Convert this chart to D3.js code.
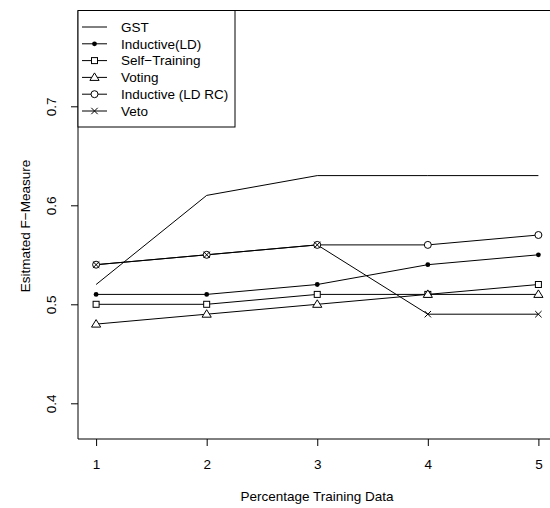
<!DOCTYPE html>
<html>
<head>
<meta charset="utf-8">
<script src="https://cdn.jsdelivr.net/npm/d3@7"></script>
<style>
  body { margin: 0; background: #fff; overflow: hidden; }
  svg { display: block; }
  svg text { font-family: "Liberation Sans", Arial, sans-serif; fill: #000; }
</style>
</head>
<body>
<div id="chart"></div>
<script>
// ========================================
// Data
// ========================================
const xValues = [1, 2, 3, 4, 5];
const seriesNames = ['GST', 'Inductive(LD)', 'Self\u2212Training', 'Voting', 'Inductive (LD RC)', 'Veto'];
const symbols = ['none', 'dot', 'square', 'triangle', 'circle', 'cross'];
const gst = [0.52, 0.61, 0.63, 0.63, 0.63];
const inductiveLD = [0.51, 0.51, 0.52, 0.54, 0.55];
const selfTraining = [0.50, 0.50, 0.51, 0.51, 0.52];
const voting = [0.48, 0.49, 0.50, 0.51, 0.51];
const inductiveLDRC = [0.54, 0.55, 0.56, 0.56, 0.57];
const veto = [0.54, 0.55, 0.56, 0.49, 0.49];
const yTicks = [0.4, 0.5, 0.6, 0.7];
const xLabel = 'Percentage Training Data';
const yLabel = 'Esitmated F\u2212Measure';

const seriesValues = [gst, inductiveLD, selfTraining, voting, inductiveLDRC, veto];

// ========================================
// Dimensions
// ========================================
const width = 550, height = 508;
const box = { left: 78, top: 10.5, right: 556, bottom: 439 };  // right side falls just off the page
const fontSize = '13.5px';

const svg = d3.select('#chart').append('svg')
  .attr('width', width)
  .attr('height', height);

// scales fitted to where R put the ticks
const xScale = d3.scaleLinear().domain([1, 5]).range([96.1, 538.4]);
const yScale = d3.scaleLinear().domain([0.4, 0.7]).range([403.3, 106.3]);

// ========================================
// Plot box (top, left, bottom; the right edge is outside the picture)
// ========================================
svg.append('path')
  .attr('d', `M${box.right},${box.top}H${box.left}V${box.bottom}H${box.right}`)
  .attr('fill', 'none')
  .attr('stroke', '#000')
  .attr('stroke-width', 1);

// ========================================
// Axes
// ========================================
const xAxis = svg.append('g')
  .attr('transform', 'translate(0,' + box.bottom + ')')
  .call(d3.axisBottom(xScale).tickValues(xValues).tickFormat(d3.format('d')).tickSize(7).tickPadding(13.5));
xAxis.select('.domain').remove();
xAxis.selectAll('text').style('font-size', fontSize);

const yAxis = svg.append('g')
  .attr('transform', 'translate(' + box.left + ',0)')
  .call(d3.axisLeft(yScale).tickValues(yTicks).tickFormat(d3.format('.1f')).tickSize(7));
yAxis.select('.domain').remove();
yAxis.selectAll('text')
  .style('font-size', fontSize)
  .attr('text-anchor', 'middle')
  .attr('x', 0)
  .attr('y', 0)
  .attr('dy', 0)
  .attr('transform', 'translate(-26,0) rotate(-90)')
  .attr('dominant-baseline', 'middle');

svg.append('text')
  .attr('x', (box.left + box.right) / 2)
  .attr('y', 501)
  .attr('text-anchor', 'middle')
  .style('font-size', fontSize)
  .text(xLabel);

svg.append('text')
  .attr('transform', 'translate(30,' + 226 + ') rotate(-90)')
  .attr('text-anchor', 'middle')
  .style('font-size', fontSize)
  .text(yLabel);

// ========================================
// Symbols
// ========================================
function drawSymbol(g, type, x, y) {
  switch (type) {
    case 'dot':
      g.append('circle').attr('cx', x).attr('cy', y).attr('r', 2.4).attr('fill', '#000');
      break;
    case 'square':
      g.append('rect').attr('x', x - 3).attr('y', y - 3).attr('width', 6).attr('height', 6)
        .attr('fill', '#fff').attr('stroke', '#000');
      break;
    case 'triangle':
      g.append('path').attr('d', `M${x},${y - 4.5}L${x + 4.6},${y + 3}L${x - 4.6},${y + 3}Z`)
        .attr('fill', '#fff').attr('stroke', '#000');
      break;
    case 'circle':
      g.append('circle').attr('cx', x).attr('cy', y).attr('r', 3.5)
        .attr('fill', '#fff').attr('stroke', '#000');
      break;
    case 'cross':
      g.append('path').attr('d', `M${x - 3.2},${y - 3.2}L${x + 3.2},${y + 3.2}M${x - 3.2},${y + 3.2}L${x + 3.2},${y - 3.2}`)
        .attr('stroke', '#000');
      break;
  }
}

// ========================================
// Lines and points
// ========================================
const line = d3.line()
  .x((d, i) => xScale(xValues[i]))
  .y(d => yScale(d));

const plot = svg.append('g');
seriesValues.forEach((vals) => {
  plot.append('path')
    .attr('d', line(vals))
    .attr('fill', 'none')
    .attr('stroke', '#000')
    .attr('stroke-width', 1);
});
// symbols on top, like R's type "o"
seriesValues.forEach((vals, s) => {
  vals.forEach((v, i) => drawSymbol(plot, symbols[s], xScale(xValues[i]), yScale(v)));
});

// ========================================
// Legend (top left, flush with the plot box)
// ========================================
const legend = svg.append('g');
legend.append('rect')
  .attr('x', box.left).attr('y', box.top)
  .attr('width', 157).attr('height', 116.5)
  .attr('fill', '#fff').attr('stroke', '#000');

seriesNames.forEach((name, i) => {
  const ly = 27 + i * 16.8;
  legend.append('line')
    .attr('x1', 82).attr('x2', 107)
    .attr('y1', ly).attr('y2', ly)
    .attr('stroke', '#000');
  drawSymbol(legend, symbols[i], 94.5, ly);
  legend.append('text')
    .attr('x', 121).attr('y', ly + 4.8)
    .style('font-size', fontSize)
    .text(name);
});
</script>
</body>
</html>
